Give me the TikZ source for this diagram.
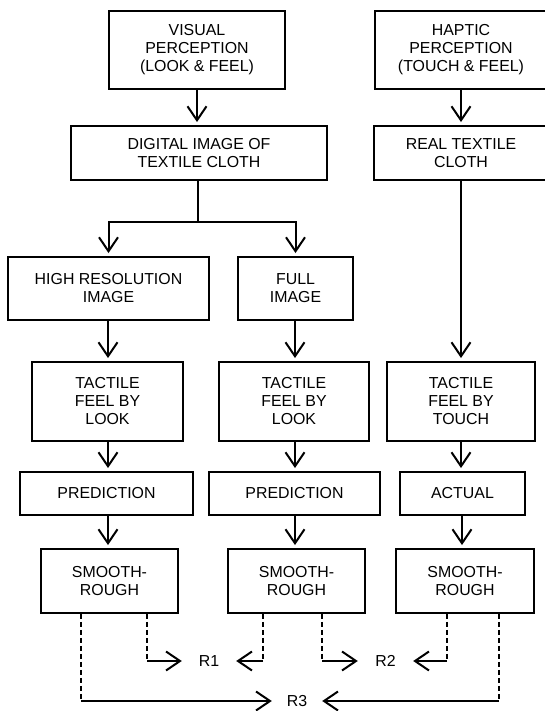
\documentclass[tikz,border=0pt]{standalone}
\usepackage{fontspec}
\setmainfont{Liberation Sans}
\usetikzlibrary{arrows.meta}
\begin{document}
\begin{tikzpicture}[x=1pt,y=-1pt,
  box/.style={draw, line width=1.9pt, inner sep=0pt, align=center,
    font=\fontsize{15.9}{18}\selectfont},
  tipstyle/.style={-{Straight Barb[length=14pt,width=19pt,line width=2pt]}},
  arr/.style={line width=2pt, tipstyle, shorten >=3pt},
  rarr/.style={line width=2pt, tipstyle},
  plain/.style={line width=2pt},
  dsh/.style={line width=1.4pt, dash pattern=on 5pt off 3pt},
  lab/.style={inner sep=0pt, minimum height=16pt, font=\fontsize{15.9}{18}\selectfont}]
\useasboundingbox (0,0) rectangle (545,711);
\clip (0,0) rectangle (545,711);

% boxes
\node[box, minimum width=176pt, minimum height=78pt] (visual) at (197,50) {VISUAL\\PERCEPTION\\(LOOK \& FEEL)};
\node[box, minimum width=172pt, minimum height=78pt] (haptic) at (461,50) {HAPTIC\\PERCEPTION\\(TOUCH \& FEEL)};
\node[box, minimum width=256pt, minimum height=54pt] (digital) at (199,153) {DIGITAL IMAGE OF\\TEXTILE CLOTH};
\node[box, minimum width=174pt, minimum height=54pt] (real) at (461,153) {REAL TEXTILE\\CLOTH};
\node[box, minimum width=201pt, minimum height=63pt] (highres) at (108.5,288.5) {HIGH RESOLUTION\\IMAGE};
\node[box, minimum width=115pt, minimum height=63pt] (full) at (295.5,288.5) {FULL\\IMAGE};
\node[box, minimum width=151pt, minimum height=79pt] (tac1) at (107.5,401.5) {TACTILE\\FEEL BY\\LOOK};
\node[box, minimum width=150pt, minimum height=79pt] (tac2) at (294,401.5) {TACTILE\\FEEL BY\\LOOK};
\node[box, minimum width=148pt, minimum height=79pt] (tac3) at (461,401.5) {TACTILE\\FEEL BY\\TOUCH};
\node[box, minimum width=173pt, minimum height=43pt] (pred1) at (106.5,493.5) {PREDICTION};
\node[box, minimum width=171pt, minimum height=43pt] (pred2) at (294.5,493.5) {PREDICTION};
\node[box, minimum width=125pt, minimum height=43pt] (act) at (462.5,493.5) {ACTUAL};
\node[box, minimum width=137pt, minimum height=64pt] (sm1) at (109.5,581) {SMOOTH-\\ROUGH};
\node[box, minimum width=137pt, minimum height=64pt] (sm2) at (296.5,581) {SMOOTH-\\ROUGH};
\node[box, minimum width=138pt, minimum height=64pt] (sm3) at (465,581) {SMOOTH-\\ROUGH};

% result labels
\node[lab, minimum width=54pt] (r1) at (209,661) {R1};
\node[lab, minimum width=55pt] (r2) at (385.5,661) {R2};
\node[lab, minimum width=50pt] (r3) at (297,701) {R3};

% vertical flow
\draw[arr] (visual.south) -- (visual.south |- digital.north);
\coordinate (sp) at (198,222);
\draw[plain] (digital.south -| sp) -- (sp);
\draw[arr] (sp) -| (highres.north);
\draw[arr] (sp) -| (full.north);
\draw[arr] (haptic.south) -- (real.north);
\draw[arr] (real.south) -- (tac3.north);
\draw[arr] (highres.south -| 108,0) -- (tac1.north -| 108,0);
\draw[arr] (full.south -| 295,0) -- (tac2.north -| 295,0);
\draw[arr] (tac1.south -| 108,0) -- (pred1.north -| 108,0);
\draw[arr] (tac2.south -| 295,0) -- (pred2.north -| 295,0);
\draw[arr] (tac3.south -| 461,0) -- (act.north -| 461,0);
\draw[arr] (pred1.south -| 108,0) -- (sm1.north -| 108,0);
\draw[arr] (pred2.south -| 295,0) -- (sm2.north -| 295,0);
\draw[arr] (act.south -| 462,0) -- (sm3.north -| 462,0);

% dashed result connectors
\coordinate (d1) at ([xshift=-28.5pt]sm1.south);
\coordinate (d2) at ([xshift=37.5pt]sm1.south);
\coordinate (d3) at ([xshift=-33.5pt]sm2.south);
\coordinate (d4) at ([xshift=25.5pt]sm2.south);
\coordinate (d5) at ([xshift=-18pt]sm3.south);
\coordinate (d6) at ([xshift=34pt]sm3.south);

\draw[dsh] (d1) -- (d1 |- r3.west);
\draw[rarr] (d1 |- r3.west) -- (r3.west);
\draw[dsh] (d2) -- (d2 |- r1.west);
\draw[rarr] (d2 |- r1.west) -- (r1.west);
\draw[dsh] (d3) -- (d3 |- r1.east);
\draw[rarr] (d3 |- r1.east) -- (r1.east);
\draw[dsh] (d4) -- (d4 |- r2.west);
\draw[rarr] (d4 |- r2.west) -- (r2.west);
\draw[dsh] (d5) -- (d5 |- r2.east);
\draw[rarr] (d5 |- r2.east) -- (r2.east);
\draw[dsh] (d6) -- (d6 |- r3.east);
\draw[rarr] (d6 |- r3.east) -- (r3.east);
\end{tikzpicture}
\end{document}
